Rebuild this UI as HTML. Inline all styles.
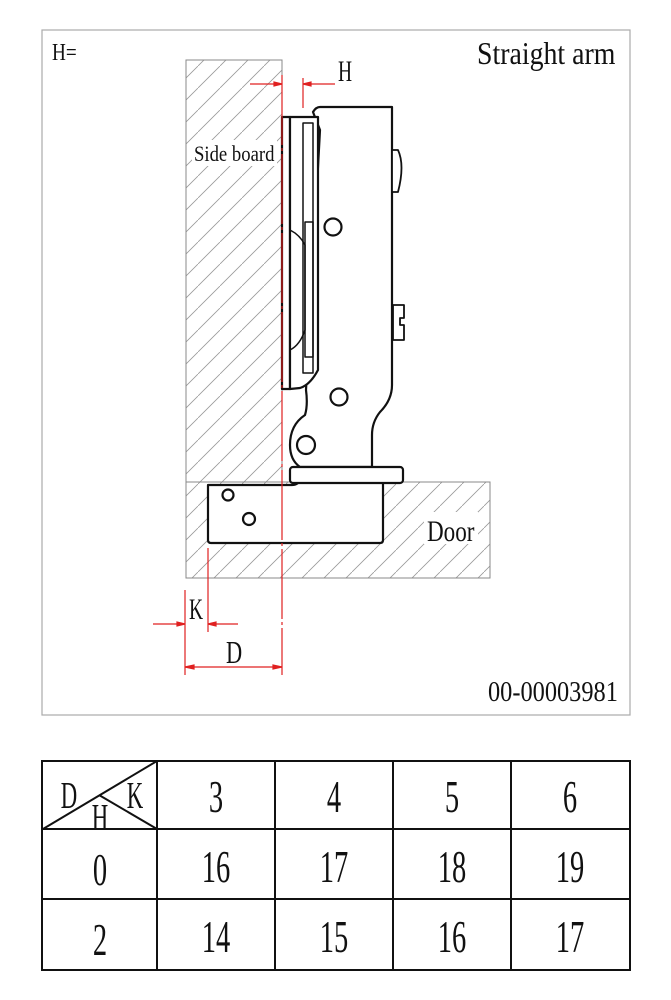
<!DOCTYPE html>
<html><head><meta charset="utf-8"><style>
html,body{margin:0;padding:0;background:#fff;}
svg{display:block}
text{font-family:"Liberation Serif",serif;fill:#111}
</style></head><body>
<svg width="671" height="1000" viewBox="0 0 671 1000" xmlns="http://www.w3.org/2000/svg">
<defs>
<pattern id="h" patternUnits="userSpaceOnUse" width="22" height="22">
<path d="M-2,24 L24,-2" stroke="#999" stroke-width="0.8"/>
</pattern>
</defs>
<rect x="42" y="30" width="588" height="685" fill="#fff" stroke="#aaa" stroke-width="1.2"/>
<rect x="186" y="60" width="96" height="422" fill="url(#h)" stroke="#888" stroke-width="1"/>
<rect x="186" y="482" width="304" height="96" fill="url(#h)" stroke="#888" stroke-width="1"/>
<rect x="192" y="140" width="85" height="26" fill="#fff"/>
<text transform="translate(194 161) scale(0.85 1)" font-size="22">Side board</text>
<rect x="424" y="512" width="54" height="32" fill="#fff"/>
<text transform="translate(427 541) scale(0.77 1)" font-size="30">Door</text>
<text transform="translate(52 60) scale(0.8 1)" font-size="24">H=</text>
<text transform="translate(477 64) scale(0.87 1)" font-size="32">Straight arm</text>
<text transform="translate(488 701) scale(0.87 1)" font-size="28">00-00003981</text>
<text transform="translate(338 81) scale(0.65 1)" font-size="30">H</text>
<text transform="translate(189 619) scale(0.65 1)" font-size="30">K</text>
<text transform="translate(226 663) scale(0.7 1)" font-size="32">D</text>
<g fill="#fff" stroke="#111" stroke-width="2.2" stroke-linejoin="round">
<path d="M208,485 L292,485 Q298,485 300,480 L383,480 L383,540 Q383,543 380,543 L211,543 Q208,543 208,540 Z"/>
<path d="M313,112 Q316,107 320,107 L392,107 L392,385 Q392,400 380,412 Q372,422 372,435 L372,467 L300,467 Q290,460 290,445 Q290,425 305,415 Q308,405 306,390 L320,130 Z"/>
<rect x="282" y="117" width="8" height="272"/>
<path d="M290,117 L318,117 L318,370 Q310,385 300,388 L290,389 Z"/>
<rect x="303" y="123" width="10" height="250" fill="none" stroke-width="1.5"/>
<rect x="305" y="222" width="8" height="135" fill="none" stroke-width="1.5"/>
<path d="M290,230 Q300,235 305,245 L305,330 Q300,345 290,350" fill="none" stroke-width="1.5"/>
<rect x="290" y="467" width="113" height="16" rx="3"/>
<path d="M392,150 L398,150 Q405,165 398,192 L392,192 Z" stroke-width="1.8"/>
<path d="M393,305 L404,305 L404,318 L400,318 L400,325 L404,325 L404,340 L393,340 Z" stroke-width="1.8"/>
<circle cx="333" cy="227" r="8.5"/>
<circle cx="339" cy="397" r="8.5"/>
<circle cx="306" cy="445" r="9"/>
<circle cx="228" cy="495" r="5.5"/>
<circle cx="249" cy="519" r="6"/>
</g>
<g stroke="#e02020" stroke-width="1.2" fill="#e02020">
<line x1="282" y1="75" x2="282" y2="675" stroke-dasharray="70,3,3,3"/>
<line x1="303" y1="78" x2="303" y2="108"/>
<line x1="250" y1="84" x2="282" y2="84"/><line x1="303" y1="84" x2="335" y2="84"/>
<path d="M282,84 l-8,-2 v4 z M303,84 l8,-2 v4 z"/>
<line x1="185" y1="590" x2="185" y2="675"/>
<line x1="208" y1="548" x2="208" y2="632"/>
<line x1="153" y1="624" x2="185" y2="624"/><line x1="208" y1="624" x2="238" y2="624"/>
<path d="M185,624 l-8,-2 v4 z M208,624 l8,-2 v4 z"/>
<line x1="185" y1="667" x2="282" y2="667"/>
<path d="M185,667 l9,-2 v4 z M282,667 l-9,-2 v4 z"/>
</g>
<g stroke="#111" stroke-width="2" fill="none">
<rect x="42" y="761" width="588" height="209"/>
<line x1="42" y1="829" x2="630" y2="829"/>
<line x1="42" y1="899" x2="630" y2="899"/>
<line x1="157" y1="761" x2="157" y2="970"/>
<line x1="275" y1="761" x2="275" y2="970"/>
<line x1="393" y1="761" x2="393" y2="970"/>
<line x1="511" y1="761" x2="511" y2="970"/>
<line x1="43" y1="829" x2="157" y2="761"/>
<line x1="99" y1="795" x2="157" y2="829"/>
</g>
<g font-size="46" text-anchor="middle">
<text transform="translate(69 808) scale(0.6 1)" font-size="38">D</text>
<text transform="translate(135 808) scale(0.6 1)" font-size="38">K</text>
<text transform="translate(100 830) scale(0.6 1)" font-size="38">H</text>
<text transform="translate(216 812) scale(0.62 1)">3</text>
<text transform="translate(334 812) scale(0.62 1)">4</text>
<text transform="translate(452 812) scale(0.62 1)">5</text>
<text transform="translate(570 812) scale(0.62 1)">6</text>
<text transform="translate(100 885) scale(0.62 1)">0</text>
<text transform="translate(216 882) scale(0.62 1)">16</text>
<text transform="translate(334 882) scale(0.62 1)">17</text>
<text transform="translate(452 882) scale(0.62 1)">18</text>
<text transform="translate(570 882) scale(0.62 1)">19</text>
<text transform="translate(100 955) scale(0.62 1)">2</text>
<text transform="translate(216 952) scale(0.62 1)">14</text>
<text transform="translate(334 952) scale(0.62 1)">15</text>
<text transform="translate(452 952) scale(0.62 1)">16</text>
<text transform="translate(570 952) scale(0.62 1)">17</text>
</g>
</svg>
</body></html>
